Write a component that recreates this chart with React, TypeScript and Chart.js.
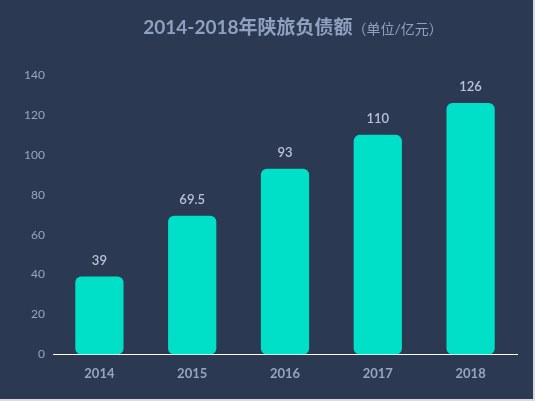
import { useEffect, useRef } from 'react';
import { Chart, registerables, type ChartConfiguration, type Plugin } from 'chart.js';

Chart.register(...registerables);

const years = ['2014', '2015', '2016', '2017', '2018'];
const debt = [39, 69.5, 93, 110, 126];
const yTicks = [0, 20, 40, 60, 80, 100, 120, 140];

const BG = '#2b3a52';
const BAR = '#00e0c8';
const FONT = 'Lato, "Noto Sans CJK SC", sans-serif';

// title with a smaller unit suffix, drawn straight on the canvas
const titlePlugin: Plugin<'bar'> = {
  id: 'splitTitle',
  afterDraw(chart) {
    const { ctx } = chart;
    const main = '2014-2018年陕旅负债额';
    const unit = '（单位/亿元）';
    ctx.save();
    ctx.textBaseline = 'middle';
    ctx.font = `bold 19px ${FONT}`;
    const w1 = ctx.measureText(main).width;
    ctx.font = `14px ${FONT}`;
    const w2 = ctx.measureText(unit).width;
    const x0 = 293 - (w1 + w2) / 2;
    ctx.fillStyle = '#8fa1bf';
    ctx.font = `bold 19px ${FONT}`;
    ctx.fillText(main, x0, 28);
    ctx.font = `14px ${FONT}`;
    ctx.fillText(unit, x0 + w1, 29);
    ctx.restore();
  },
};

// value labels above each bar
const valuePlugin: Plugin<'bar'> = {
  id: 'valueLabels',
  afterDatasetsDraw(chart) {
    const { ctx } = chart;
    const meta = chart.getDatasetMeta(0);
    ctx.save();
    ctx.font = `600 13px ${FONT}`;
    ctx.fillStyle = '#b9c3d6';
    ctx.textAlign = 'center';
    ctx.textBaseline = 'middle';
    meta.data.forEach((el, i) => {
      const { x, y } = el.getProps(['x', 'y'], true) as { x: number; y: number };
      ctx.fillText(String(debt[i]), x, y - 16);
    });
    ctx.restore();
  },
};

export default function App() {
  const canvasRef = useRef<HTMLCanvasElement>(null);

  useEffect(() => {
    if (!canvasRef.current) return;
    const config: ChartConfiguration<'bar'> = {
      type: 'bar',
      data: {
        labels: years,
        datasets: [
          {
            data: debt,
            backgroundColor: BAR,
            borderRadius: 6,
            borderSkipped: false,
            barPercentage: 0.52,
            categoryPercentage: 1,
          },
        ],
      },
      options: {
        responsive: false,
        animation: false,
        layout: { padding: { top: 75, right: 18, bottom: 7, left: 0 } },
        plugins: {
          legend: { display: false },
          tooltip: { enabled: false },
          title: { display: false },
        },
        scales: {
          x: {
            grid: { display: false, drawTicks: false },
            border: { display: true, color: '#ffffff', width: 1 },
            ticks: { color: '#97a6c0', font: { family: FONT, size: 13, weight: 'bold' }, padding: 12 },
          },
          y: {
            min: 0,
            max: 140,
            afterFit: (scale) => { scale.width = 53; },
            afterBuildTicks: (scale) => { scale.ticks = yTicks.map((v) => ({ value: v })); },
            grid: { display: false, drawTicks: false },
            border: { display: false },
            ticks: { color: '#97a6c0', font: { family: FONT, size: 12 }, padding: 8 },
          },
        },
      },
      plugins: [titlePlugin, valuePlugin],
    };
    const chart = new Chart(canvasRef.current, config);
    return () => { chart.destroy(); };
  }, []);

  return (
    <div style={{ position: 'fixed', left: 0, top: 0, width: 535, height: 401, background: BG, boxShadow: 'inset -2px -2px 0 #d9dde3' }}>
      <canvas ref={canvasRef} width={535} height={401} style={{ display: 'block' }} />
    </div>
  );
}
